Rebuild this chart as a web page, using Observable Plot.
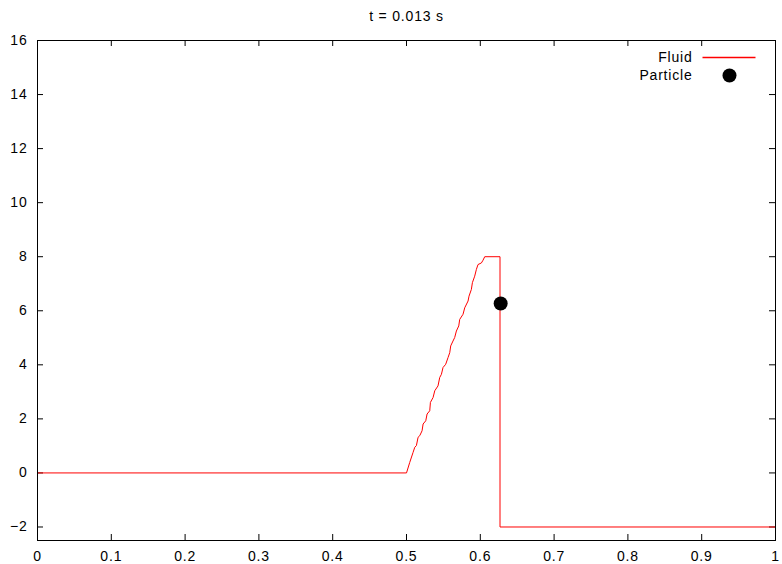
<!DOCTYPE html>
<html><head><meta charset="utf-8">
<script src="https://cdn.jsdelivr.net/npm/d3@7"></script>
<script src="https://cdn.jsdelivr.net/npm/@observablehq/plot@0.6"></script>
<style>body{margin:0;background:#fff;}</style>
</head><body><div id="chart"></div>
<script>
const title = "t = 0.013 s";
const fluidX = [0, 0.5, 0.5044, 0.5089, 0.5112, 0.5134, 0.5157, 0.518, 0.5211, 0.5225, 0.5261, 0.5279,
  0.5315, 0.5324, 0.536, 0.5383, 0.5427, 0.545, 0.5473, 0.5495, 0.5531, 0.5563,
  0.5586, 0.5599, 0.563, 0.5653, 0.5676, 0.5708, 0.5721, 0.5766, 0.5789, 0.5834,
  0.5847, 0.5879, 0.5893, 0.5924, 0.5947, 0.5969, 0.6015, 0.6037, 0.606, 0.6267, 0.6267, 1];
const fluidY = [0, 0, 0.39, 0.76, 0.95, 1.01, 1.32, 1.38, 1.56, 1.81, 1.93, 2.18,
  2.30, 2.61, 2.79, 3.04, 3.22, 3.53, 3.65, 3.90, 4.02, 4.27,
  4.45, 4.70, 4.88, 5.01, 5.25, 5.44, 5.68, 5.87, 6.11, 6.36,
  6.54, 6.79, 7.04, 7.28, 7.53, 7.71, 7.77, 7.87, 8, 8, -2, -2];
const particleX = [0.6276];
const particleY = [6.27];
const xTicks = [0, 0.1, 0.2, 0.3, 0.4, 0.5, 0.6, 0.7, 0.8, 0.9, 1];
const yTicks = [-2, 0, 2, 4, 6, 8, 10, 12, 14, 16];
const legendLabels = ["Fluid", "Particle"];

const W = 782, H = 564, mL = 37, mR = 7, mT = 40, mB = 24;
const pw = W - mL - mR, ph = H - mT - mB, tk = 6;
const fluid = fluidX.map((x, i) => ({x, y: fluidY[i]}));
const particles = particleX.map((x, i) => ({x, y: particleY[i]}));
const lineSymbol = {draw(ctx) { ctx.moveTo(-26.5, 0); ctx.lineTo(26.5, 0); }};

const chart = Plot.plot({
  width: W, height: H,
  marginLeft: mL, marginRight: mR, marginTop: mT, marginBottom: mB,
  style: {fontFamily: "'Liberation Sans', Arial, sans-serif", fontSize: "14px", letterSpacing: "0.8px", color: "black", background: "white"},
  x: {domain: [0, 1], label: null},
  y: {domain: [-2.5, 16], label: null},
  marks: [
    Plot.axisX(xTicks, {anchor: "bottom", label: null, tickSize: 0, tickPadding: 11, tickFormat: d3.format("")}),
    Plot.axisY(yTicks, {anchor: "left", label: null, tickSize: 0, tickPadding: 10, tickFormat: d3.format("")}),
    Plot.ruleX(xTicks, {x: d => d, insetTop: ph - tk, stroke: "black"}),
    Plot.ruleX(xTicks, {x: d => d, insetBottom: ph - tk, stroke: "black"}),
    Plot.ruleY(yTicks, {y: d => d, insetRight: pw - tk, stroke: "black"}),
    Plot.ruleY(yTicks, {y: d => d, insetLeft: pw - tk, stroke: "black"}),
    Plot.line(fluid, {x: "x", y: "y", stroke: "#ff0000", strokeWidth: 1}),
    Plot.dot(particles, {x: "x", y: "y", r: 7, fill: "black"}),
    Plot.frame({stroke: "black"}),
    Plot.text([title], {text: d => d, frameAnchor: "top", lineAnchor: "middle", dy: -24, fontSize: 14, letterSpacing: "1.3px"}),
    Plot.text([legendLabels[0]], {text: d => d, frameAnchor: "top-right", textAnchor: "end", lineAnchor: "middle", dx: -83, dy: 17}),
    Plot.text([legendLabels[1]], {text: d => d, frameAnchor: "top-right", textAnchor: "end", lineAnchor: "middle", dx: -83, dy: 35}),
    Plot.dot([0], {x: null, y: null, frameAnchor: "top-right", dx: -46.5, dy: 17, symbol: lineSymbol, stroke: "#ff0000", fill: "none"}),
    Plot.dot([0], {x: null, y: null, frameAnchor: "top-right", dx: -46, dy: 35, r: 7, fill: "black"})
  ]
});
document.getElementById("chart").appendChild(chart);
</script>
</body></html>
